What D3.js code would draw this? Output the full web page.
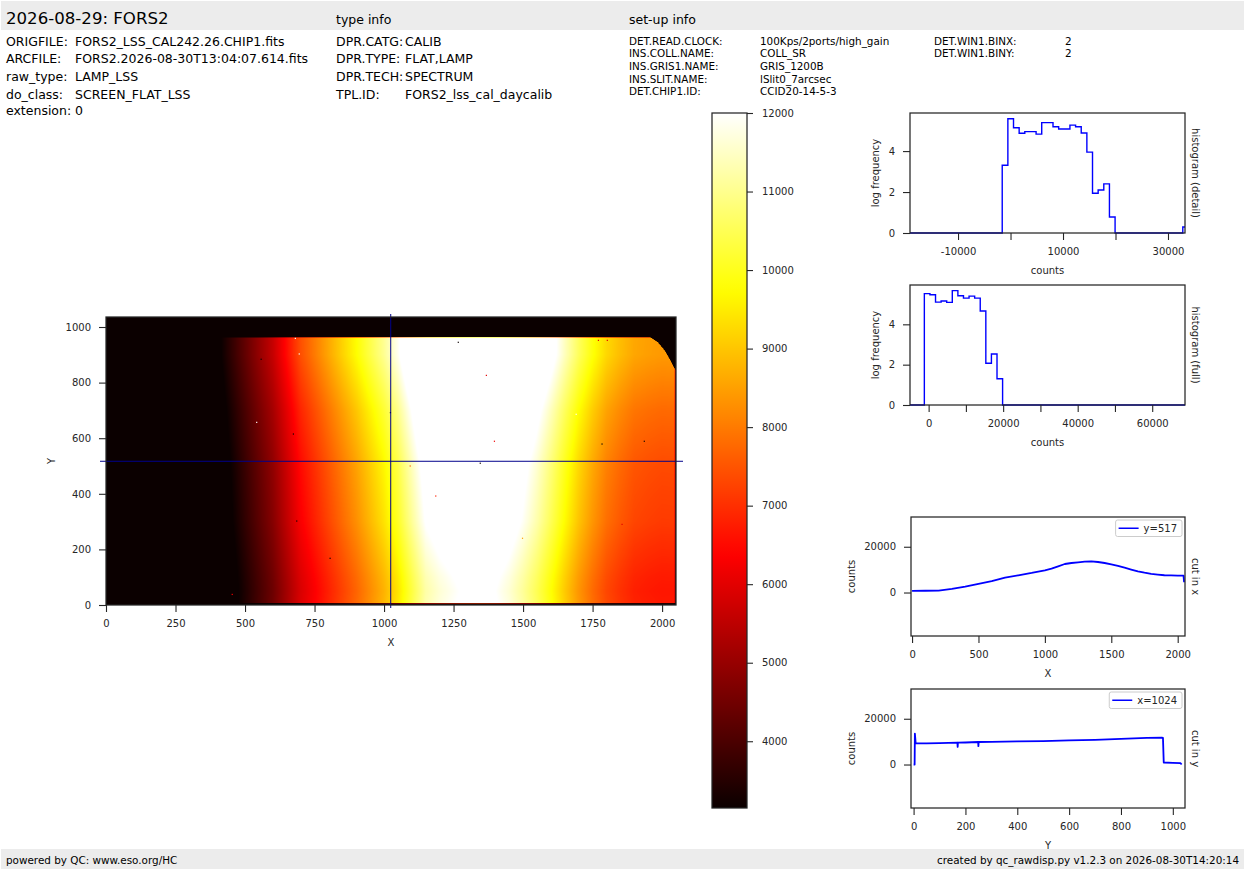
<!DOCTYPE html>
<html><head><meta charset="utf-8">
<script src="https://cdn.jsdelivr.net/npm/d3@7"></script>
<style>body{margin:0;background:#fff;overflow:hidden} text{font-family:"DejaVu Sans";}</style>
</head><body><svg id="c" width="1245" height="870"></svg>
<script>
// ---------------- DATA ----------------
const titleText = "2026-08-29: FORS2";
const typeHeader = "type info";
const setupHeader = "set-up info";
const fileLabels = ["ORIGFILE:", "ARCFILE:", "raw_type:", "do_class:", "extension:"];
const fileValues = ["FORS2_LSS_CAL242.26.CHIP1.fits", "FORS2.2026-08-30T13:04:07.614.fits", "LAMP_LSS", "SCREEN_FLAT_LSS", "0"];
const typeLabels = ["DPR.CATG:", "DPR.TYPE:", "DPR.TECH:", "TPL.ID:"];
const typeValues = ["CALIB", "FLAT,LAMP", "SPECTRUM", "FORS2_lss_cal_daycalib"];
const setupLabels1 = ["DET.READ.CLOCK:", "INS.COLL.NAME:", "INS.GRIS1.NAME:", "INS.SLIT.NAME:", "DET.CHIP1.ID:"];
const setupValues1 = ["100Kps/2ports/high_gain", "COLL_SR", "GRIS_1200B", "lSlit0_7arcsec", "CCID20-14-5-3"];
const setupLabels2 = ["DET.WIN1.BINX:", "DET.WIN1.BINY:"];
const setupValues2 = ["2", "2"];
const footerLeft = "powered by QC: www.eso.org/HC";
const footerRight = "created by qc_rawdisp.py v1.2.3 on 2026-08-30T14:20:14";

// image
const imgXDomain = [0, 2050];
const imgYDomain = [0, 1036];
const imgXTicks = [0, 250, 500, 750, 1000, 1250, 1500, 1750, 2000];
const imgYTicks = [0, 200, 400, 600, 800, 1000];
const cutRow = 517;
const cutCol = 1024;
// colour bar
const cbarDomain = [3150, 12000];
const cbarTicks = [4000, 5000, 6000, 7000, 8000, 9000, 10000, 11000, 12000];

// cut in x (row y=517)
const cutXPos = [0, 100, 200, 300, 400, 500, 600, 700, 800, 900, 1000, 1050, 1100, 1150, 1200, 1250, 1300, 1350, 1400, 1450, 1500, 1550, 1600, 1650, 1700, 1750, 1800, 1850, 1900, 1950, 2000, 2044, 2048];
const cutXVal = [725, 780, 870, 1600, 2600, 3770, 4930, 6520, 7540, 8550, 9700, 10430, 11450, 12460, 12900, 13200, 13480, 13620, 13330, 12900, 12320, 11650, 10870, 10050, 9280, 8650, 8120, 7800, 7540, 7450, 7390, 7400, 4500];
// cut in y (column x=1024), smooth part
const cutYPos = [0, 4, 8, 50, 100, 200, 300, 400, 500, 600, 700, 800, 900, 958, 962, 965, 1000, 1030, 1034];
const cutYVal = [0, 0, 9300, 9250, 9340, 9630, 9930, 10070, 10220, 10510, 10800, 11240, 11680, 11700, 11650, 875, 730, 580, 0];
// single-pixel glitches on the column cut
const cutYGlitchPos = [5, 169, 170, 171, 249, 250, 251];
const cutYGlitchVal = [13500, 9550, 7700, 9550, 9850, 8000, 9850];
const cutXDomain = [-8, 2055];
const cutYDomain = [-10, 1047];
const cutCountDomain = [-19000, 33000];
const cutCountTicks = [0, 20000];
const cutXTicks = [0, 500, 1000, 1500, 2000];
const cutYTicks = [0, 200, 400, 600, 800, 1000];

// vignetted top-right corner of the chip (boundary points)
const cornerEdgeY = [845, 880, 915, 945, 968];
const cornerEdgeX = [2048, 2030, 2010, 1985, 1950];
// isolated hot / cold pixels
const hotPixX = [681, 695, 558, 542, 674, 1023, 1094, 1186, 686, 454, 806, 1267, 1368, 1397, 1346, 1784, 1936, 1691, 1771, 1803, 1856, 1498];
const hotPixY = [959, 903, 884, 657, 615, 692, 500, 392, 302, 38, 168, 945, 826, 589, 510, 579, 589, 686, 952, 952, 290, 240];
const hotPixV = [20000, 20000, 0, 20000, 0, 0, 7600, 6800, 0, 6200, 0, 0, 6000, 6200, 0, 0, 0, 20000, 6000, 6000, 6000, 8500];

// histogram (detail)
const histDetailDomain = [-19150, 33240];
const histDetailStart = -1580;
const histDetailWidth = 1075;
const histDetailLog = [3.31, 5.58, 5.14, 4.87, 4.95, 4.95, 4.83, 5.39, 5.39, 5.19, 5.08, 5.08, 5.27, 5.19, 4.88, 3.95, 1.94, 2.10, 2.40, 0.78, 0, 0, 0, 0, 0, 0, 0, 0, 0, 0, 0, 0, 0.29];
const histDetailTicks = [-10000, 0, 10000, 20000, 30000];
const histDetailLabelled = [-10000, 10000, 30000];
const histDetailYMax = 5.86;
// histogram (full)
const histFullDomain = [-5000, 68800];
const histFullStart = -1150;
const histFullWidth = 1500;
const histFullLog = [5.52, 5.47, 5.10, 5.16, 5.09, 5.67, 5.42, 5.30, 5.40, 5.30, 4.66, 2.07, 2.53, 1.30];
const histFullTicks = [0, 10000, 20000, 30000, 40000, 50000, 60000];
const histFullLabelled = [0, 20000, 40000, 60000];
const histFullYMax = 5.95;
const histYTicks = [0, 2, 4];

// ---------------- DRAW ----------------
const W = 1245, H = 870;
const INK = "#262626";
const FONT = "DejaVu Sans";
const svg = d3.select("#c");
svg.append("rect").attr("width", W).attr("height", H).attr("fill", "#fff");
const defs = svg.append("defs");

// header band
svg.append("rect").attr("x", 1).attr("y", 1).attr("width", W - 2).attr("height", 29).attr("fill", "#ececec");
function txt(x, y, s, size, opts = {}) {
  const t = svg.append("text").attr("x", x).attr("y", y).text(s)
    .style("font-size", size + "px").style("font-family", FONT).attr("fill", opts.fill || "#000");
  if (opts.anchor) t.attr("text-anchor", opts.anchor);
  return t;
}
txt(6, 24, titleText, 16.6);
txt(336, 23.5, typeHeader, 12.5);
txt(629, 23.5, setupHeader, 12.5);
const fileY = [45.5, 62.5, 80.5, 98.5, 114.5];
fileLabels.forEach((l, i) => { txt(6, fileY[i], l, 12.5); txt(75, fileY[i], fileValues[i], 12.5); });
typeLabels.forEach((l, i) => { txt(336, fileY[i], l, 12.5); txt(405, fileY[i], typeValues[i], 12.5); });
setupLabels1.forEach((l, i) => { const y = 44.5 + 12.7 * i; txt(629, y, l, 10.4); txt(760, y, setupValues1[i], 10.4); });
setupLabels2.forEach((l, i) => { const y = 44.5 + 12.7 * i; txt(934, y, l, 10.4); txt(1065, y, setupValues2[i], 10.4); });

// generic axis styling
function styleAxis(g) {
  g.selectAll("path.domain").remove();
  g.selectAll(".tick line").attr("stroke", INK).attr("stroke-width", 1.1);
  g.selectAll(".tick text").attr("fill", INK).style("font-size", "10px").style("font-family", FONT);
}
function frame(x0, y0, x1, y1) {
  svg.append("rect").attr("x", x0).attr("y", y0).attr("width", x1 - x0).attr("height", y1 - y0)
    .attr("fill", "none").attr("stroke", INK).attr("stroke-width", 1.25);
}
function clip(id, x0, y0, x1, y1) {
  defs.append("clipPath").attr("id", id).append("rect").attr("x", x0).attr("y", y0).attr("width", x1 - x0).attr("height", y1 - y0);
  return "url(#" + id + ")";
}
const TS = 7, TP = 8;

// ---- colour map (matplotlib "hot") ----
const span = cbarDomain[1] - cbarDomain[0];
const cmap = d3.scaleLinear()
  .domain([cbarDomain[0], cbarDomain[0] + 0.365 * span, cbarDomain[0] + 0.746 * span, cbarDomain[1]])
  .range(["#0b0000", "#ff0000", "#ffff00", "#ffffff"]).clamp(true);
const LUTN = 512;
const lut = d3.range(LUTN).map(i => d3.rgb(cmap(cbarDomain[0] + span * i / (LUTN - 1))));

// ---- image ----
const IX0 = 106, IX1 = 676, IY0 = 317, IY1 = 605;
const ix = d3.scaleLinear().domain(imgXDomain).range([IX0, IX1]);
const iy = d3.scaleLinear().domain(imgYDomain).range([IY1, IY0]);
const profX = d3.scaleLinear().domain(cutXPos).range(cutXVal).clamp(true);
const profY = d3.scaleLinear().domain(cutYPos).range(cutYVal).clamp(true);
const cornerScale = d3.scaleLinear().domain(cornerEdgeY).range(cornerEdgeX).clamp(true);
const norm = profY(cutRow);
const S = 2;
const cw = (IX1 - IX0) * S, ch = (IY1 - IY0) * S;
const canvas = document.createElement("canvas");
canvas.width = cw; canvas.height = ch;
const ctx = canvas.getContext("2d");
const imgData = ctx.createImageData(cw, ch);
const colVals = new Float64Array(cw);
for (let px = 0; px < cw; px++) colVals[px] = profX(ix.invert(IX0 + (px + 0.5) / S));
for (let py = 0; py < ch; py++) {
  const y = iy.invert(IY0 + (py + 0.5) / S);
  const f = profY(y) / norm;
  const edge = y > cornerEdgeY[0] ? cornerScale(y) : Infinity;
  for (let px = 0; px < cw; px++) {
    const x = ix.invert(IX0 + (px + 0.5) / S);
    let v = colVals[px] * f;
    if (x > edge) v = 800;
    let k = Math.round((v - cbarDomain[0]) / span * (LUTN - 1));
    k = Math.max(0, Math.min(LUTN - 1, k));
    const c = lut[k], o = (py * cw + px) * 4;
    imgData.data[o] = c.r; imgData.data[o + 1] = c.g; imgData.data[o + 2] = c.b; imgData.data[o + 3] = 255;
  }
}
ctx.putImageData(imgData, 0, 0);
svg.append("image").attr("x", IX0).attr("y", IY0).attr("width", IX1 - IX0).attr("height", IY1 - IY0)
  .attr("preserveAspectRatio", "none").attr("href", canvas.toDataURL());
// hot pixels
svg.append("g").selectAll("rect").data(hotPixX).join("rect")
  .attr("x", (d) => ix(d) - 0.6).attr("y", (d, i) => iy(hotPixY[i]) - 0.6)
  .attr("width", 1.2).attr("height", 1.2).attr("fill", (d, i) => cmap(hotPixV[i]));
// crosshair
svg.append("line").attr("x1", ix(cutCol)).attr("x2", ix(cutCol)).attr("y1", IY0 - 3).attr("y2", IY1 + 3)
  .attr("stroke", "#00008c").attr("stroke-width", 1);
svg.append("line").attr("x1", IX0 - 6).attr("x2", IX1 + 7).attr("y1", iy(cutRow)).attr("y2", iy(cutRow))
  .attr("stroke", "#00008c").attr("stroke-width", 1);
// axes
svg.append("g").attr("transform", `translate(0,${IY1})`)
  .call(d3.axisBottom(ix).tickValues(imgXTicks).tickFormat(String).tickSize(TS).tickPadding(TP).tickSizeOuter(0)).call(styleAxis);
svg.append("g").attr("transform", `translate(${IX0},0)`)
  .call(d3.axisLeft(iy).tickValues(imgYTicks).tickFormat(String).tickSize(TS).tickPadding(TP).tickSizeOuter(0)).call(styleAxis);
frame(IX0, IY0, IX1, IY1);
txt((IX0 + IX1) / 2, 646, "X", 10, { anchor: "middle", fill: INK });
svg.append("text").attr("transform", `translate(55,${(IY0 + IY1) / 2}) rotate(-90)`).attr("text-anchor", "middle")
  .style("font-size", "10px").style("font-family", FONT).attr("fill", INK).text("Y");

// ---- colour bar ----
const CX0 = 712, CX1 = 747, CY0 = 113, CY1 = 808;
const cy = d3.scaleLinear().domain(cbarDomain).range([CY1, CY0]);
const grad = defs.append("linearGradient").attr("id", "cbg").attr("x1", 0).attr("y1", 1).attr("x2", 0).attr("y2", 0);
d3.range(0, 1.0001, 0.02).forEach(t => grad.append("stop").attr("offset", t).attr("stop-color", cmap(cbarDomain[0] + t * span)));
svg.append("rect").attr("x", CX0).attr("y", CY0).attr("width", CX1 - CX0).attr("height", CY1 - CY0).attr("fill", "url(#cbg)");
svg.append("g").attr("transform", `translate(${CX1},0)`)
  .call(d3.axisRight(cy).tickValues(cbarTicks).tickFormat(String).tickSize(6).tickPadding(9).tickSizeOuter(0)).call(styleAxis);
frame(CX0, CY0, CX1, CY1);

// ---- histograms ----
function histPanel(id, box, dom, ymax, start, width, vals, ticks, labelled, rightLabel) {
  const [x0, y0, x1, y1] = box;
  const x = d3.scaleLinear().domain(dom).range([x0, x1]);
  const y = d3.scaleLinear().domain([0, ymax]).range([y1, y0]);
  const pts = [[dom[0], 0]];
  vals.forEach((v, i) => pts.push([start + i * width, v]));
  pts.push([start + vals.length * width, 0]);
  if (start + vals.length * width < dom[1]) pts.push([dom[1], 0]);
  svg.append("path").datum(pts).attr("clip-path", clip(id, x0, y0 - 2, x1, y1 + 2))
    .attr("d", d3.line().x(d => x(d[0])).y(d => y(d[1])).curve(d3.curveStepAfter))
    .attr("fill", "none").attr("stroke", "#0000ff").attr("stroke-width", 1.4);
  svg.append("g").attr("transform", `translate(0,${y1})`)
    .call(d3.axisBottom(x).tickValues(ticks).tickFormat(d => labelled.includes(d) ? String(d) : "").tickSize(TS).tickPadding(TP).tickSizeOuter(0)).call(styleAxis);
  svg.append("g").attr("transform", `translate(${x0},0)`)
    .call(d3.axisLeft(y).tickValues(histYTicks).tickFormat(String).tickSize(TS).tickPadding(TP).tickSizeOuter(0)).call(styleAxis);
  frame(x0, y0, x1, y1);
  txt((x0 + x1) / 2, y1 + 41, "counts", 10, { anchor: "middle", fill: INK });
  svg.append("text").attr("transform", `translate(879,${(y0 + y1) / 2}) rotate(-90)`).attr("text-anchor", "middle")
    .style("font-size", "10px").style("font-family", FONT).attr("fill", INK).text("log frequency");
  svg.append("text").attr("transform", `translate(1192,${(y0 + y1) / 2}) rotate(90)`).attr("text-anchor", "middle")
    .style("font-size", "10px").style("font-family", FONT).attr("fill", INK).text(rightLabel);
}
histPanel("hd", [910, 113, 1185, 233], histDetailDomain, histDetailYMax, histDetailStart, histDetailWidth, histDetailLog, histDetailTicks, histDetailLabelled, "histogram (detail)");
histPanel("hf", [910, 285, 1185, 405], histFullDomain, histFullYMax, histFullStart, histFullWidth, histFullLog, histFullTicks, histFullLabelled, "histogram (full)");

// ---- cuts ----
function cutPanel(id, box, dom, pos, vals, ticks, xlabel, rightLabel, legendText) {
  const [x0, y0, x1, y1] = box;
  const x = d3.scaleLinear().domain(dom).range([x0, x1]);
  const y = d3.scaleLinear().domain(cutCountDomain).range([y1, y0]);
  const pts = pos.map((p, i) => [p, vals[i]]);
  svg.append("path").datum(pts).attr("clip-path", clip(id, x0, y0, x1, y1))
    .attr("d", d3.line().x(d => x(d[0])).y(d => y(d[1])))
    .attr("fill", "none").attr("stroke", "#0000ff").attr("stroke-width", 1.8).attr("stroke-linejoin", "round");
  svg.append("g").attr("transform", `translate(0,${y1})`)
    .call(d3.axisBottom(x).tickValues(ticks).tickFormat(String).tickSize(TS).tickPadding(TP).tickSizeOuter(0)).call(styleAxis);
  svg.append("g").attr("transform", `translate(${x0},0)`)
    .call(d3.axisLeft(y).tickValues(cutCountTicks).tickFormat(String).tickSize(TS).tickPadding(TP).tickSizeOuter(0)).call(styleAxis);
  frame(x0, y0, x1, y1);
  txt((x0 + x1) / 2, y1 + 41, xlabel, 10, { anchor: "middle", fill: INK });
  svg.append("text").attr("transform", `translate(855,${(y0 + y1) / 2}) rotate(-90)`).attr("text-anchor", "middle")
    .style("font-size", "10px").style("font-family", FONT).attr("fill", INK).text("counts");
  svg.append("text").attr("transform", `translate(1192,${(y0 + y1) / 2}) rotate(90)`).attr("text-anchor", "middle")
    .style("font-size", "10px").style("font-family", FONT).attr("fill", INK).text(rightLabel);
  // legend
  const lg = svg.append("g");
  const lt = lg.append("text").style("font-size", "10px").style("font-family", FONT).attr("fill", INK).text(legendText);
  const tw = lt.node().getComputedTextLength();
  const bw = tw + 33, bh = 16.5;
  const bx = x1 - 3 - bw, by = y0 + 3;
  lg.insert("rect", "text").attr("x", bx).attr("y", by).attr("width", bw).attr("height", bh).attr("rx", 2)
    .attr("fill", "#fff").attr("fill-opacity", 0.8).attr("stroke", "#cccccc").attr("stroke-width", 1);
  lg.append("line").attr("x1", bx + 3).attr("x2", bx + 23).attr("y1", by + bh / 2).attr("y2", by + bh / 2)
    .attr("stroke", "#0000ff").attr("stroke-width", 1.5);
  lt.attr("x", bx + 28).attr("y", by + bh / 2 + 3.6);
}
cutPanel("cx", [911, 517, 1185, 636], cutXDomain, cutXPos, cutXVal, cutXTicks, "X", "cut in x", "y=" + cutRow);
// merge glitches into the column cut
const colPts = cutYPos.map((p, i) => [p, cutYVal[i]]).concat(cutYGlitchPos.map((p, i) => [p, cutYGlitchVal[i]])).sort((a, b) => a[0] - b[0]);
cutPanel("cy", [911, 689, 1185, 808], cutYDomain, colPts.map(d => d[0]), colPts.map(d => d[1]), cutYTicks, "Y", "cut in y", "x=" + cutCol);

// footer band
svg.append("rect").attr("x", 1).attr("y", 849).attr("width", W - 2).attr("height", 20).attr("fill", "#ececec");
txt(6, 864, footerLeft, 10.4);
txt(1239, 864, footerRight, 10.4, { anchor: "end" });
</script></body></html>
